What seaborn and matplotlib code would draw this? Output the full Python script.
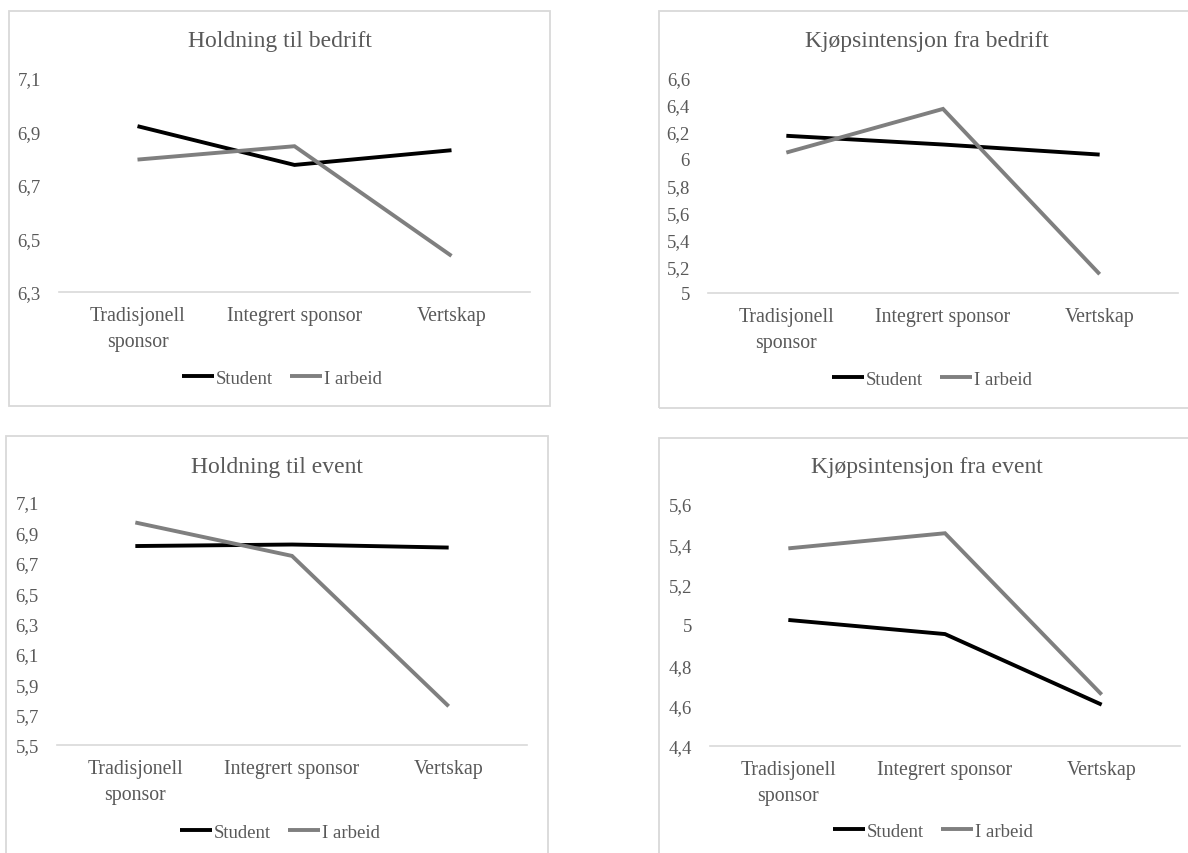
import matplotlib
matplotlib.use("Agg")
import matplotlib.pyplot as plt
from matplotlib.patches import Rectangle
from matplotlib.lines import Line2D
import seaborn as sns
import pandas as pd

sns.set_theme(style="white")
plt.rcParams["font.family"] = ["Liberation Serif", "DejaVu Serif"]

# ---- data -------------------------------------------------------------
categories = ["Tradisjonell sponsor", "Integrert sponsor", "Vertskap"]
tick_labels = ["Tradisjonell\nsponsor", "Integrert sponsor", "Vertskap"]
groups = ["Student", "I arbeid"]

holdning_bedrift_student = [6.92, 6.775, 6.83]
holdning_bedrift_arbeid = [6.795, 6.845, 6.435]
kjop_bedrift_student = [6.17, 6.105, 6.03]
kjop_bedrift_arbeid = [6.045, 6.37, 5.14]
holdning_event_student = [6.81, 6.82, 6.80]
holdning_event_arbeid = [6.965, 6.745, 5.755]
kjop_event_student = [5.025, 4.955, 4.605]
kjop_event_arbeid = [5.38, 5.455, 4.655]

titles = ["Holdning til bedrift", "Kjøpsintensjon fra bedrift",
          "Holdning til event", "Kjøpsintensjon fra event"]
y_ranges = [(6.3, 7.1), (5.0, 6.6), (5.5, 7.1), (4.4, 5.6)]
y_step = 0.2

series = [
    (holdning_bedrift_student, holdning_bedrift_arbeid),
    (kjop_bedrift_student, kjop_bedrift_arbeid),
    (holdning_event_student, holdning_event_arbeid),
    (kjop_event_student, kjop_event_arbeid),
]

# ---- layout (pixels) --------------------------------------------------
W, H = 1188, 854
frames = [(9, 12, 550, 407), (659, 12, 1195, 409),
          (6, 437, 548, 870), (659, 439, 1195, 870)]
plot_areas = [(59, 79, 530, 293), (708, 79, 1178, 294),
              (57, 503, 527, 746), (710, 505, 1180, 747)]
title_y = [42, 42, 467, 468]
legend_pos = [(282, 379), (932, 380), (280, 833), (933, 832)]

TEXT = "#595959"
GRID = "#d9d9d9"
palette = {"Student": "#000000", "I arbeid": "#7f7f7f"}
LW = 2.8

fig = plt.figure(figsize=(W / 100, H / 100), dpi=100)
fig.patch.set_facecolor("white")


def fmt(v):
    return f"{round(v, 1):g}".replace(".", ",")


for i in range(4):
    x0, y0, x1, y1 = frames[i]
    fig.patches.append(Rectangle((x0 / W, 1 - y1 / H), (x1 - x0) / W, (y1 - y0) / H,
                                 transform=fig.transFigure, fill=False,
                                 edgecolor=GRID, linewidth=1.3, zorder=0))

    l, t, r, b = plot_areas[i]
    ax = fig.add_axes([l / W, 1 - b / H, (r - l) / W, (b - t) / H])

    student, arbeid = series[i]
    df = pd.DataFrame({
        "Kategori": categories * 2,
        "Verdi": list(student) + list(arbeid),
        "Gruppe": [groups[0]] * 3 + [groups[1]] * 3,
    })
    sns.lineplot(data=df, x="Kategori", y="Verdi", hue="Gruppe",
                 hue_order=groups, palette=palette, linewidth=LW,
                 sort=False, legend=False, ax=ax)
    for ln in ax.lines:
        ln.set_solid_capstyle("butt")
        ln.set_solid_joinstyle("miter")

    lo, hi = y_ranges[i]
    n = int(round((hi - lo) / y_step))
    ticks = [lo + k * y_step for k in range(n + 1)]
    ax.set_ylim(lo, hi)
    ax.set_yticks(ticks)
    ax.set_yticklabels([fmt(v) for v in ticks])
    ax.set_xlim(-0.5, 2.5)
    ax.set_xticks(range(3))
    ax.set_xticklabels(tick_labels, linespacing=1.5)
    ax.set_xlabel("")
    ax.set_ylabel("")

    for side in ["top", "right", "left"]:
        ax.spines[side].set_visible(False)
    ax.spines["bottom"].set_color(GRID)
    ax.spines["bottom"].set_linewidth(1.2)
    ax.tick_params(axis="both", length=0, colors=TEXT)
    ax.tick_params(axis="y", pad=13, labelsize=13.5)
    ax.tick_params(axis="x", pad=10, labelsize=14.3)
    ax.set_facecolor("none")
    ax.grid(False)

    cx = (x0 + x1) / 2
    fig.text(cx / W, 1 - title_y[i] / H, titles[i], ha="center", va="center",
             fontsize=17, color=TEXT)

    handles = [Line2D([], [], color=palette[g], linewidth=LW, solid_capstyle="butt")
               for g in groups]
    lx, ly = legend_pos[i]
    leg = ax.legend(handles, groups, loc="center", ncol=2, frameon=False,
                    bbox_to_anchor=(lx / W, 1 - ly / H), bbox_transform=fig.transFigure,
                    fontsize=13.5, handlelength=1.7, handletextpad=0.1,
                    columnspacing=0.9, borderpad=0)
    for txt in leg.get_texts():
        txt.set_color(TEXT)

fig.savefig("out.png", dpi=100, facecolor="white")
